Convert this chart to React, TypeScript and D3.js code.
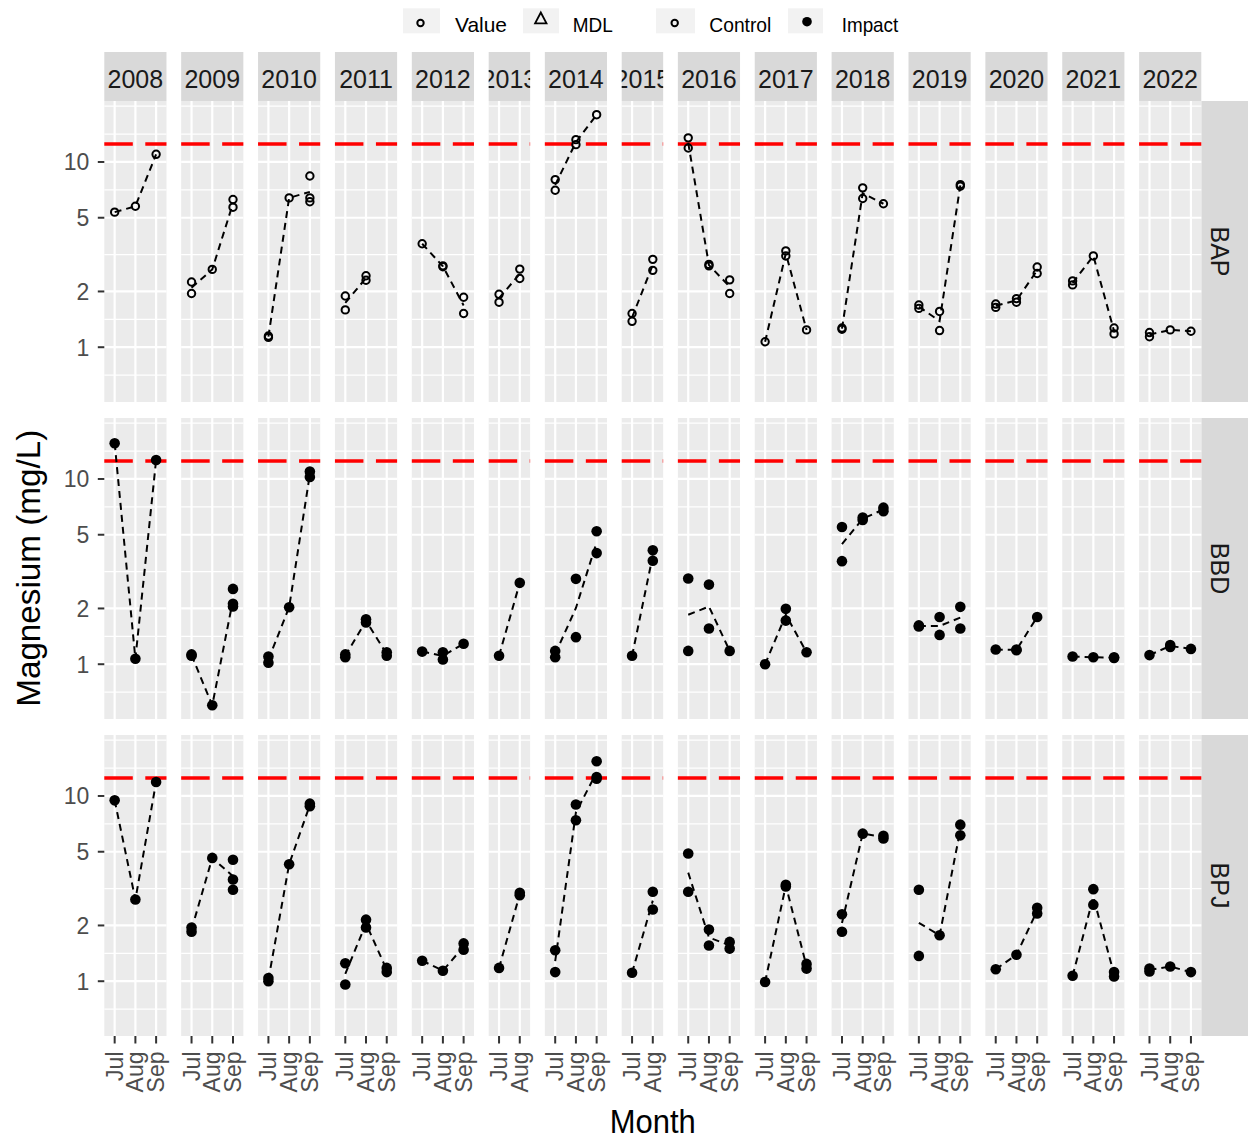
import React, { useEffect } from "react";
import * as d3 from "d3";

// ---------- data ----------
const years = [2008, 2009, 2010, 2011, 2012, 2013, 2014, 2015, 2016, 2017, 2018, 2019, 2020, 2021, 2022];
const monthOrder = ["Jul", "Aug", "Sep"];
const sites = ["BAP", "BBD", "BPJ"];
const siteGroup = ["Control", "Impact", "Impact"];
const yBreaks = [1, 2, 5, 10];
const guideline = 12.5;
const legendShapeLabels = ["Value", "MDL"];
const legendGroupLabels = ["Control", "Impact"];

type Obs = [number, string, number];

const bapObs: Obs[] = [
  [2008, "Jul", 5.36], [2008, "Aug", 5.77], [2008, "Sep", 11.0],
  [2009, "Jul", 2.25], [2009, "Jul", 1.95], [2009, "Aug", 2.63], [2009, "Sep", 6.27], [2009, "Sep", 5.7],
  [2010, "Jul", 1.15], [2010, "Jul", 1.13], [2010, "Aug", 6.4], [2010, "Sep", 8.4], [2010, "Sep", 6.4], [2010, "Sep", 6.1],
  [2011, "Jul", 1.89], [2011, "Jul", 1.59], [2011, "Aug", 2.43], [2011, "Aug", 2.3],
  [2012, "Jul", 3.62], [2012, "Aug", 2.75], [2012, "Aug", 2.72], [2012, "Sep", 1.86], [2012, "Sep", 1.52],
  [2013, "Jul", 1.93], [2013, "Jul", 1.75], [2013, "Aug", 2.64], [2013, "Aug", 2.35],
  [2014, "Jul", 8.03], [2014, "Jul", 7.04], [2014, "Aug", 13.2], [2014, "Aug", 12.4], [2014, "Sep", 18.0],
  [2015, "Jul", 1.52], [2015, "Jul", 1.38], [2015, "Aug", 2.98], [2015, "Aug", 2.6],
  [2016, "Jul", 13.5], [2016, "Jul", 11.9], [2016, "Aug", 2.8], [2016, "Aug", 2.75], [2016, "Sep", 2.31], [2016, "Sep", 1.95],
  [2017, "Jul", 1.07], [2017, "Aug", 3.31], [2017, "Aug", 3.11], [2017, "Sep", 1.24],
  [2018, "Jul", 1.27], [2018, "Jul", 1.25], [2018, "Aug", 7.25], [2018, "Aug", 6.35], [2018, "Sep", 5.95],
  [2019, "Jul", 1.69], [2019, "Jul", 1.62], [2019, "Aug", 1.56], [2019, "Aug", 1.23], [2019, "Sep", 7.55], [2019, "Sep", 7.4],
  [2020, "Jul", 1.71], [2020, "Jul", 1.64], [2020, "Aug", 1.83], [2020, "Aug", 1.75], [2020, "Sep", 2.71], [2020, "Sep", 2.5],
  [2021, "Jul", 2.28], [2021, "Jul", 2.17], [2021, "Aug", 3.11], [2021, "Sep", 1.27], [2021, "Sep", 1.18],
  [2022, "Jul", 1.2], [2022, "Jul", 1.14], [2022, "Aug", 1.24], [2022, "Sep", 1.22],
];

const bbdObs: Obs[] = [
  [2008, "Jul", 15.6], [2008, "Aug", 1.07], [2008, "Sep", 12.65],
  [2009, "Jul", 1.13], [2009, "Jul", 1.11], [2009, "Aug", 0.6], [2009, "Sep", 2.55], [2009, "Sep", 2.12], [2009, "Sep", 2.05],
  [2010, "Jul", 1.1], [2010, "Jul", 1.02], [2010, "Aug", 2.03], [2010, "Sep", 10.96], [2010, "Sep", 10.24],
  [2011, "Jul", 1.13], [2011, "Jul", 1.09], [2011, "Aug", 1.75], [2011, "Aug", 1.68], [2011, "Sep", 1.16], [2011, "Sep", 1.11],
  [2012, "Jul", 1.17], [2012, "Aug", 1.16], [2012, "Aug", 1.06], [2012, "Sep", 1.29],
  [2013, "Jul", 1.11], [2013, "Aug", 2.75],
  [2014, "Jul", 1.18], [2014, "Jul", 1.09], [2014, "Aug", 2.89], [2014, "Aug", 1.4], [2014, "Sep", 5.22], [2014, "Sep", 3.98],
  [2015, "Jul", 1.11], [2015, "Aug", 4.12], [2015, "Aug", 3.62],
  [2016, "Jul", 2.9], [2016, "Jul", 1.18], [2016, "Aug", 2.69], [2016, "Aug", 1.56], [2016, "Sep", 1.18],
  [2017, "Jul", 1.0], [2017, "Aug", 1.99], [2017, "Aug", 1.72], [2017, "Sep", 1.16],
  [2018, "Jul", 5.5], [2018, "Jul", 3.6], [2018, "Aug", 6.2], [2018, "Aug", 6.0], [2018, "Sep", 7.0], [2018, "Sep", 6.7],
  [2019, "Jul", 1.62], [2019, "Jul", 1.6], [2019, "Aug", 1.8], [2019, "Aug", 1.44], [2019, "Sep", 2.04], [2019, "Sep", 1.56],
  [2020, "Jul", 1.2], [2020, "Aug", 1.2], [2020, "Aug", 1.19], [2020, "Sep", 1.8],
  [2021, "Jul", 1.1], [2021, "Aug", 1.09], [2021, "Sep", 1.09], [2021, "Sep", 1.08],
  [2022, "Jul", 1.12], [2022, "Aug", 1.27], [2022, "Aug", 1.24], [2022, "Sep", 1.21],
];

const bpjObs: Obs[] = [
  [2008, "Jul", 9.47], [2008, "Aug", 2.76], [2008, "Sep", 11.9],
  [2009, "Jul", 1.95], [2009, "Jul", 1.85], [2009, "Aug", 4.63], [2009, "Sep", 4.53], [2009, "Sep", 3.54], [2009, "Sep", 3.12],
  [2010, "Jul", 1.04], [2010, "Jul", 1.0], [2010, "Aug", 4.28], [2010, "Sep", 9.09], [2010, "Sep", 8.8],
  [2011, "Jul", 1.25], [2011, "Jul", 0.96], [2011, "Aug", 2.15], [2011, "Aug", 1.95], [2011, "Sep", 1.18], [2011, "Sep", 1.12],
  [2012, "Jul", 1.29], [2012, "Aug", 1.14], [2012, "Sep", 1.6], [2012, "Sep", 1.48],
  [2013, "Jul", 1.18], [2013, "Aug", 3.0], [2013, "Aug", 2.91],
  [2014, "Jul", 1.47], [2014, "Jul", 1.12], [2014, "Aug", 9.0], [2014, "Aug", 7.39], [2014, "Sep", 15.4], [2014, "Sep", 12.66], [2014, "Sep", 12.4],
  [2015, "Jul", 1.11], [2015, "Aug", 3.04], [2015, "Aug", 2.44],
  [2016, "Jul", 4.89], [2016, "Jul", 3.04], [2016, "Aug", 1.9], [2016, "Aug", 1.56], [2016, "Sep", 1.63], [2016, "Sep", 1.5],
  [2017, "Jul", 0.99], [2017, "Aug", 3.32], [2017, "Aug", 3.25], [2017, "Sep", 1.24], [2017, "Sep", 1.17],
  [2018, "Jul", 2.3], [2018, "Jul", 1.85], [2018, "Aug", 6.26], [2018, "Sep", 6.1], [2018, "Sep", 5.9],
  [2019, "Jul", 3.12], [2019, "Jul", 1.37], [2019, "Aug", 1.77], [2019, "Sep", 7.0], [2019, "Sep", 6.13],
  [2020, "Jul", 1.16], [2020, "Aug", 1.39], [2020, "Sep", 2.49], [2020, "Sep", 2.32],
  [2021, "Jul", 1.07], [2021, "Aug", 3.14], [2021, "Aug", 2.59], [2021, "Sep", 1.12], [2021, "Sep", 1.06],
  [2022, "Jul", 1.17], [2022, "Jul", 1.13], [2022, "Aug", 1.2], [2022, "Sep", 1.12],
];

const siteObs: Obs[][] = [bapObs, bbdObs, bpjObs];

// ---------- layout ----------
const W = 1248;
const H = 1140;
const plotLeft = 104.3;
const plotRight = 1201.3;
const panelGap = 14.7;
const rowTop = 101;
const rowH = 301;
const rowStep = 317;
const stripTop = 52;
const FONT = "'Liberation Sans', Arial, Helvetica, sans-serif";

export default function App() {
  useEffect(() => {
    document.body.style.margin = "0";
  }, []);

  const all = siteObs.flat();
  const logExt = d3.extent(all, (d) => Math.log10(d[2])) as [number, number];
  const R = logExt[1] - logExt[0];
  const yDomain: [number, number] = [Math.pow(10, logExt[0] - 0.05 * R), Math.pow(10, logExt[1] + 0.05 * R)];

  const yearMonths = years.map((y) => monthOrder.filter((m) => all.some((d) => d[0] === y && d[1] === m)));
  const totalUnits = d3.sum(yearMonths, (m) => m.length);
  const unitPx = (plotRight - plotLeft - panelGap * (years.length - 1)) / totalUnits;
  let cursor = plotLeft;
  const panels = years.map((year, i) => {
    const w = yearMonths[i].length * unitPx;
    const x0 = cursor;
    cursor += w + panelGap;
    const xs = d3.scalePoint<string>().domain(yearMonths[i]).range([x0, x0 + w]).padding(0.5);
    return { year, x0, w, months: yearMonths[i], xs };
  });

  // minor breaks (ggplot style, in log space)
  const lb = yBreaks.map((b) => Math.log10(b));
  const extB = [lb[0] - (lb[1] - lb[0]), ...lb, lb[lb.length - 1] + (lb[lb.length - 1] - lb[lb.length - 2])];
  const minorLogs: number[] = [];
  for (let i = 0; i < extB.length - 1; i++) minorLogs.push((extB[i] + extB[i + 1]) / 2);
  minorLogs.push(extB[0], extB[extB.length - 1]);
  const minorBreaks = minorLogs
    .map((l) => Math.pow(10, l))
    .filter((v) => v >= yDomain[0] && v <= yDomain[1]);

  const rows = sites.map((site, r) => {
    const top = rowTop + r * rowStep;
    const ys = d3.scaleLog().domain(yDomain).range([top + rowH, top]);
    return { site, top, ys, obs: siteObs[r], filled: siteGroup[r] === "Impact" };
  });

  const bottomY = rows[2].top + rowH;

  return (
    <svg width={W} height={H} style={{ position: "absolute", left: 0, top: 0, background: "#fff" }} fontFamily={FONT}>
      <defs>
        {panels.map((p) => (
          <clipPath id={`strip-${p.year}`} key={p.year}>
            <rect x={p.x0} y={stripTop} width={p.w} height={rowTop - stripTop} />
          </clipPath>
        ))}
      </defs>

      {/* legend */}
      <g>
        <rect x={403} y={8.3} width={37} height={25} fill="#F2F2F2" />
        <circle cx={420.5} cy={23} r={3.2} fill="none" stroke="#000" strokeWidth={2} />
        <text x={455} y={31.7} fontSize={21} textLength={52} lengthAdjust="spacingAndGlyphs">{legendShapeLabels[0]}</text>
        <rect x={523} y={8.3} width={36} height={25} fill="#F2F2F2" />
        <path d="M540.8,12.5 L546.5,23.3 L535.1,23.3 Z" fill="none" stroke="#000" strokeWidth={1.8} />
        <text x={572.7} y={31.7} fontSize={21} textLength={40} lengthAdjust="spacingAndGlyphs">{legendShapeLabels[1]}</text>
        <rect x={656} y={8.3} width={39} height={25} fill="#F2F2F2" />
        <circle cx={674.7} cy={23} r={3.2} fill="none" stroke="#000" strokeWidth={2} />
        <text x={709.3} y={31.7} fontSize={21} textLength={62} lengthAdjust="spacingAndGlyphs">{legendGroupLabels[0]}</text>
        <rect x={788} y={8.3} width={35} height={25} fill="#F2F2F2" />
        <circle cx={807} cy={21.7} r={4.8} fill="#000" />
        <text x={841.7} y={31.7} fontSize={21} textLength={56.6} lengthAdjust="spacingAndGlyphs">{legendGroupLabels[1]}</text>
      </g>

      {/* top strips */}
      {panels.map((p) => (
        <g key={`s${p.year}`}>
          <rect x={p.x0} y={stripTop} width={p.w} height={rowTop - stripTop} fill="#D9D9D9" />
          <g clipPath={`url(#strip-${p.year})`}>
            <text x={p.x0 + p.w / 2} y={87.7} fontSize={25} fill="#1A1A1A" textAnchor="middle">
              {p.year}
            </text>
          </g>
        </g>
      ))}

      {rows.map((row) => (
        <g key={row.site}>
          {/* right strip */}
          <rect x={plotRight} y={row.top} width={W - plotRight} height={rowH} fill="#D9D9D9" />
          <text
            transform={`translate(${1220},${row.top + rowH / 2}) rotate(90)`}
            y={9}
            fontSize={25}
            fill="#1A1A1A"
            textAnchor="middle"
          >
            {row.site}
          </text>

          {panels.map((p) => {
            const pts = row.obs.filter((d) => d[0] === p.year);
            const means = p.months
              .map((m) => {
                const vals = pts.filter((d) => d[1] === m).map((d) => Math.log10(d[2]));
                return vals.length ? { m, v: Math.pow(10, d3.mean(vals) as number) } : null;
              })
              .filter((d) => d !== null) as { m: string; v: number }[];
            const line = d3
              .line<{ m: string; v: number }>()
              .x((d) => p.xs(d.m) as number)
              .y((d) => row.ys(d.v));
            return (
              <g key={p.year}>
                <rect x={p.x0} y={row.top} width={p.w} height={rowH} fill="#EBEBEB" />
                {minorBreaks.map((b) => (
                  <line key={`mi${b}`} x1={p.x0} x2={p.x0 + p.w} y1={row.ys(b)} y2={row.ys(b)} stroke="#fff" strokeWidth={1.3} />
                ))}
                {yBreaks.map((b) => (
                  <line key={`ma${b}`} x1={p.x0} x2={p.x0 + p.w} y1={row.ys(b)} y2={row.ys(b)} stroke="#fff" strokeWidth={2.2} />
                ))}
                {p.months.map((m) => (
                  <line key={`v${m}`} x1={p.xs(m)} x2={p.xs(m)} y1={row.top} y2={row.top + rowH} stroke="#fff" strokeWidth={2.2} />
                ))}
                <line
                  x1={p.x0}
                  x2={p.x0 + p.w}
                  y1={row.ys(guideline)}
                  y2={row.ys(guideline)}
                  stroke="#FF0000"
                  strokeWidth={3.6}
                  strokeDasharray="28.5 12.5"
                />
                {means.length > 1 && (
                  <path d={line(means) as string} fill="none" stroke="#000" strokeWidth={2} strokeDasharray="7 5" />
                )}
                {pts.map((d, k) =>
                  row.filled ? (
                    <circle key={k} cx={p.xs(d[1])} cy={row.ys(d[2])} r={5.3} fill="#000" />
                  ) : (
                    <circle key={k} cx={p.xs(d[1])} cy={row.ys(d[2])} r={3.7} fill="none" stroke="#000" strokeWidth={2} />
                  )
                )}
              </g>
            );
          })}

          {/* y axis */}
          {yBreaks.map((b) => (
            <g key={`yt${b}`}>
              <line x1={plotLeft - 6.5} x2={plotLeft} y1={row.ys(b)} y2={row.ys(b)} stroke="#333" strokeWidth={2} />
              <text x={89.3} y={row.ys(b) + 8.5} fontSize={23} fill="#4D4D4D" textAnchor="end">
                {b}
              </text>
            </g>
          ))}
        </g>
      ))}

      {/* x axis */}
      {panels.map((p) =>
        p.months.map((m) => (
          <g key={`xt${p.year}${m}`}>
            <line x1={p.xs(m)} x2={p.xs(m)} y1={bottomY} y2={bottomY + 7.5} stroke="#333" strokeWidth={2} />
            <text
              transform={`translate(${p.xs(m)},${1051.5}) rotate(-90)`}
              dy="0.35em"
              fontSize={23}
              fill="#4D4D4D"
              textAnchor="end"
            >
              {m}
            </text>
          </g>
        ))
      )}

      {/* axis titles */}
      <text x={(plotLeft + plotRight) / 2} y={1133.3} fontSize={34} textAnchor="middle" textLength={86} lengthAdjust="spacingAndGlyphs">
        Month
      </text>
      <text
        transform={`translate(${39.5},${568.3}) rotate(-90)`}
        fontSize={33}
        textAnchor="middle"
        textLength={277}
        lengthAdjust="spacingAndGlyphs"
      >
        Magnesium (mg/L)
      </text>
    </svg>
  );
}
